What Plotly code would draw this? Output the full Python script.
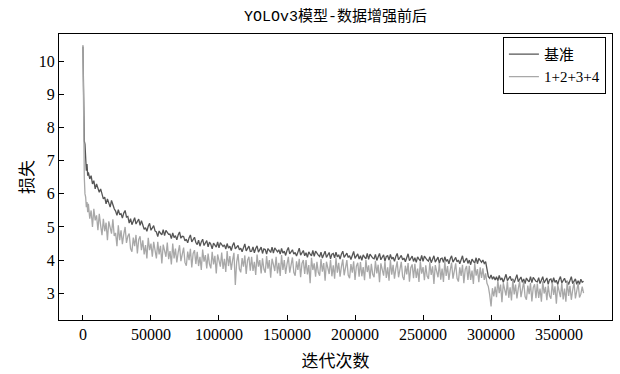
import plotly.graph_objects as go

# iterations (shared by both series)
iters = [0, 250, 500, 750, 1000, 1500, 2000, 2500, 3000, 3500] + list(range(4000, 368001, 1000))

# 基准 (baseline) loss
loss_base = [
    10.45, 9.6, 8.8, 8.2, 7.6, 7.5, 7.1, 6.7, 6.9, 6.55,
    6.65, 6.45, 6.55, 6.3, 6.4, 6.15, 6.3, 6.2, 6.05, 6.15,
    5.95, 5.85, 5.9, 5.7, 5.85, 5.75, 5.6, 5.8, 5.65, 5.55,
    5.48, 5.35, 5.52, 5.38, 5.4, 5.27, 5.42, 5.5, 5.3, 5.32,
    5.12, 5.25, 5.07, 5.2, 5.28, 5.09, 5.16, 5.24, 5.05, 5.19,
    5.06, 4.93, 4.98, 4.87, 5.02, 5.11, 4.9, 4.97, 5.04, 4.88,
    4.85, 4.71, 4.88, 4.81, 4.76, 4.92, 4.74, 4.9, 4.83, 4.78,
    4.78, 4.65, 4.82, 4.68, 4.74, 4.61, 4.76, 4.85, 4.66, 4.72,
    4.71, 4.58, 4.63, 4.52, 4.67, 4.76, 4.55, 4.62, 4.69, 4.53,
    4.47, 4.6, 4.42, 4.55, 4.63, 4.44, 4.51, 4.59, 4.4, 4.54,
    4.48, 4.34, 4.51, 4.44, 4.39, 4.55, 4.37, 4.53, 4.46, 4.41,
    4.46, 4.33, 4.5, 4.36, 4.42, 4.29, 4.44, 4.53, 4.34, 4.4,
    4.44, 4.31, 4.36, 4.25, 4.4, 4.49, 4.28, 4.35, 4.42, 4.26,
    4.27, 4.4, 4.22, 4.35, 4.43, 4.24, 4.31, 4.39, 4.2, 4.34,
    4.32, 4.18, 4.35, 4.28, 4.23, 4.39, 4.21, 4.37, 4.3, 4.25,
    4.31, 4.18, 4.35, 4.21, 4.27, 4.14, 4.29, 4.38, 4.19, 4.25,
    4.31, 4.18, 4.23, 4.12, 4.27, 4.36, 4.15, 4.22, 4.29, 4.13,
    4.22, 4.08, 4.25, 4.18, 4.13, 4.29, 4.11, 4.27, 4.2, 4.15,
    4.11, 4.24, 4.06, 4.19, 4.27, 4.08, 4.15, 4.23, 4.04, 4.18,
    4.2, 4.07, 4.24, 4.1, 4.16, 4.03, 4.18, 4.27, 4.08, 4.14,
    4.21, 4.08, 4.13, 4.02, 4.17, 4.26, 4.05, 4.12, 4.19, 4.03,
    4.13, 3.99, 4.16, 4.09, 4.04, 4.2, 4.02, 4.18, 4.11, 4.06,
    4.04, 4.17, 3.99, 4.12, 4.2, 4.01, 4.08, 4.16, 3.97, 4.11,
    4.13, 4.0, 4.17, 4.03, 4.09, 3.96, 4.11, 4.2, 4.01, 4.07,
    4.14, 4.01, 4.06, 3.95, 4.1, 4.19, 3.98, 4.05, 4.12, 3.96,
    4.07, 3.93, 4.1, 4.03, 3.98, 4.14, 3.96, 4.12, 4.05, 4.0,
    3.97, 4.1, 3.92, 4.05, 4.13, 3.94, 4.01, 4.09, 3.9, 4.04,
    4.06, 3.93, 4.1, 3.96, 4.02, 3.89, 4.04, 4.13, 3.94, 4.0,
    4.08, 3.95, 4.0, 3.89, 4.04, 4.13, 3.92, 3.99, 4.06, 3.9,
    4.0, 3.86, 4.03, 3.96, 3.91, 4.07, 3.89, 4.05, 3.98, 3.93,
    4.0, 3.9, 3.95, 3.7, 3.5, 3.45, 3.55, 3.42, 3.5, 3.4,
    3.5, 3.37, 3.54, 3.4, 3.46, 3.33, 3.48, 3.57, 3.38, 3.44,
    3.51, 3.38, 3.43, 3.32, 3.47, 3.56, 3.35, 3.42, 3.49, 3.33,
    3.43, 3.29, 3.46, 3.39, 3.34, 3.5, 3.32, 3.48, 3.41, 3.36,
    3.34, 3.47, 3.29, 3.42, 3.5, 3.31, 3.38, 3.46, 3.27, 3.41,
    3.43, 3.3, 3.47, 3.33, 3.39, 3.26, 3.41, 3.5, 3.31, 3.37,
    3.45, 3.32, 3.37, 3.26, 3.41, 3.5, 3.29, 3.36, 3.43, 3.27,
    3.38, 3.27, 3.42, 3.33, 3.36,
]

# 1+2+3+4 (augmented) loss
loss_aug = [
    10.5, 9.0, 7.8, 7.0, 6.5, 6.0, 5.9, 5.6, 5.75, 5.45,
    5.7, 5.25, 5.5, 5.0, 5.55, 5.2, 5.35, 4.9, 5.4, 5.05,
    4.75, 5.25, 4.87, 5.13, 4.6, 5.17, 5.0, 4.8, 5.23, 4.73,
    4.82, 4.42, 5.05, 4.6, 4.9, 4.48, 4.78, 5.0, 4.52, 4.72,
    4.8, 4.35, 4.25, 4.68, 4.42, 4.76, 4.2, 4.62, 4.72, 4.3,
    4.6, 4.17, 4.45, 4.05, 4.67, 4.3, 4.5, 4.1, 4.55, 4.23,
    4.05, 4.55, 4.17, 4.43, 3.9, 4.47, 4.3, 4.1, 4.53, 4.03,
    4.27, 3.87, 4.5, 4.05, 4.35, 3.93, 4.23, 4.45, 3.97, 4.17,
    4.38, 3.93, 3.83, 4.26, 4.0, 4.34, 3.78, 4.2, 4.3, 3.88,
    4.25, 3.82, 4.1, 3.7, 4.32, 3.95, 4.15, 3.75, 4.2, 3.88,
    3.75, 4.25, 3.87, 4.13, 3.6, 4.17, 4.0, 3.8, 4.23, 3.73,
    4.04, 3.64, 4.27, 3.82, 4.12, 3.7, 4.0, 4.22, 3.25, 3.94,
    4.18, 3.73, 3.63, 4.06, 3.8, 4.14, 3.58, 4.0, 4.1, 3.68,
    4.1, 3.67, 3.95, 3.55, 4.17, 3.8, 4.0, 3.6, 4.05, 3.73,
    3.62, 4.12, 3.74, 4.0, 3.47, 4.04, 3.87, 3.67, 4.1, 3.6,
    3.92, 3.52, 4.15, 3.7, 4.0, 3.58, 3.88, 4.1, 3.62, 3.82,
    4.08, 3.63, 3.53, 3.96, 3.7, 4.04, 3.48, 3.9, 4.0, 3.58,
    4.0, 3.57, 3.85, 3.3, 4.07, 3.7, 3.9, 3.5, 3.95, 3.63,
    3.53, 4.03, 3.65, 3.91, 3.38, 3.95, 3.78, 3.58, 4.01, 3.51,
    3.84, 3.44, 4.07, 3.62, 3.92, 3.5, 3.8, 4.02, 3.54, 3.74,
    4.0, 3.55, 3.45, 3.88, 3.62, 3.96, 3.4, 3.82, 3.92, 3.5,
    3.94, 3.51, 3.79, 3.39, 4.01, 3.64, 3.84, 3.44, 3.89, 3.57,
    3.48, 3.98, 3.6, 3.86, 3.33, 3.9, 3.73, 3.53, 3.96, 3.46,
    3.78, 3.38, 4.01, 3.56, 3.86, 3.44, 3.74, 3.96, 3.48, 3.68,
    3.95, 3.5, 3.4, 3.83, 3.57, 3.91, 3.35, 3.77, 3.87, 3.45,
    3.89, 3.46, 3.74, 3.34, 3.96, 3.59, 3.79, 3.39, 3.84, 3.52,
    3.43, 3.93, 3.55, 3.81, 3.28, 3.85, 3.68, 3.48, 3.91, 3.41,
    3.74, 3.34, 3.97, 3.52, 3.82, 3.4, 3.7, 3.92, 3.44, 3.64,
    3.9, 3.45, 3.35, 3.78, 3.52, 3.86, 3.3, 3.72, 3.82, 3.4,
    3.83, 3.4, 3.68, 3.28, 3.9, 3.53, 3.73, 3.33, 3.78, 3.46,
    3.75, 3.4, 3.6, 3.3, 3.2, 2.95, 2.6, 3.15, 2.9, 3.2,
    2.88, 3.38, 3.0, 3.26, 2.73, 3.3, 3.13, 2.93, 3.36, 2.86,
    3.18, 2.78, 3.41, 2.96, 3.26, 2.84, 3.14, 3.36, 2.88, 3.08,
    3.35, 2.9, 2.8, 3.23, 2.97, 3.31, 2.75, 3.17, 3.27, 2.85,
    3.29, 2.86, 3.14, 2.74, 3.36, 2.99, 3.19, 2.79, 3.24, 2.92,
    2.83, 3.33, 2.95, 3.21, 2.68, 3.25, 3.08, 2.88, 3.31, 2.81,
    3.14, 2.74, 3.37, 2.92, 3.22, 2.8, 3.1, 3.32, 2.84, 3.04,
    3.3, 2.87, 2.97, 3.2, 3.0,
]

x_ticks = [0, 50000, 100000, 150000, 200000, 250000, 300000, 350000]
y_ticks = [3, 4, 5, 6, 7, 8, 9, 10]

serif = "Liberation Serif, Noto Sans CJK SC, serif"

fig = go.Figure()
fig.add_trace(go.Scatter(x=iters, y=loss_base, mode="lines", name="基准",
                         line=dict(color="#555555", width=1.3)))
fig.add_trace(go.Scatter(x=iters, y=loss_aug, mode="lines", name="1+2+3+4",
                         line=dict(color="#a8a8a8", width=1.3)))

axis_common = dict(showline=True, linecolor="black", linewidth=1, mirror=True,
                   ticks="inside", ticklen=5, tickcolor="black", showgrid=False,
                   zeroline=False, tickfont=dict(family=serif, size=16, color="black"))

fig.update_layout(
    width=620, height=374,
    margin=dict(l=59, r=7, t=34, b=52),
    paper_bgcolor="white", plot_bgcolor="white",
    font=dict(family=serif, color="black"),
    title=dict(text="YOLOv3模型-数据增强前后", x=0.5, xref="paper", y=0.957, yanchor="middle",
               font=dict(family="Liberation Mono, Noto Sans CJK SC, monospace", size=15, color="black")),
    xaxis=dict(range=[-17600, 388900], tickvals=x_ticks,
               ticktext=[str(v) for v in x_ticks],
               title=dict(text="迭代次数", standoff=12,
                          font=dict(family=serif, size=17, color="black")),
               **axis_common),
    yaxis=dict(range=[2.19, 10.83], tickvals=y_ticks,
               title=dict(text="损失", standoff=0,
                          font=dict(family=serif, size=17, color="black")),
               **axis_common),
    legend=dict(x=0.989, y=0.99, xanchor="right", yanchor="top",
                bordercolor="black", borderwidth=1, bgcolor="white",
                font=dict(family=serif, size=15, color="black"),
                itemwidth=30, tracegroupgap=0),
    showlegend=True,
)

fig.write_html("out.html")
